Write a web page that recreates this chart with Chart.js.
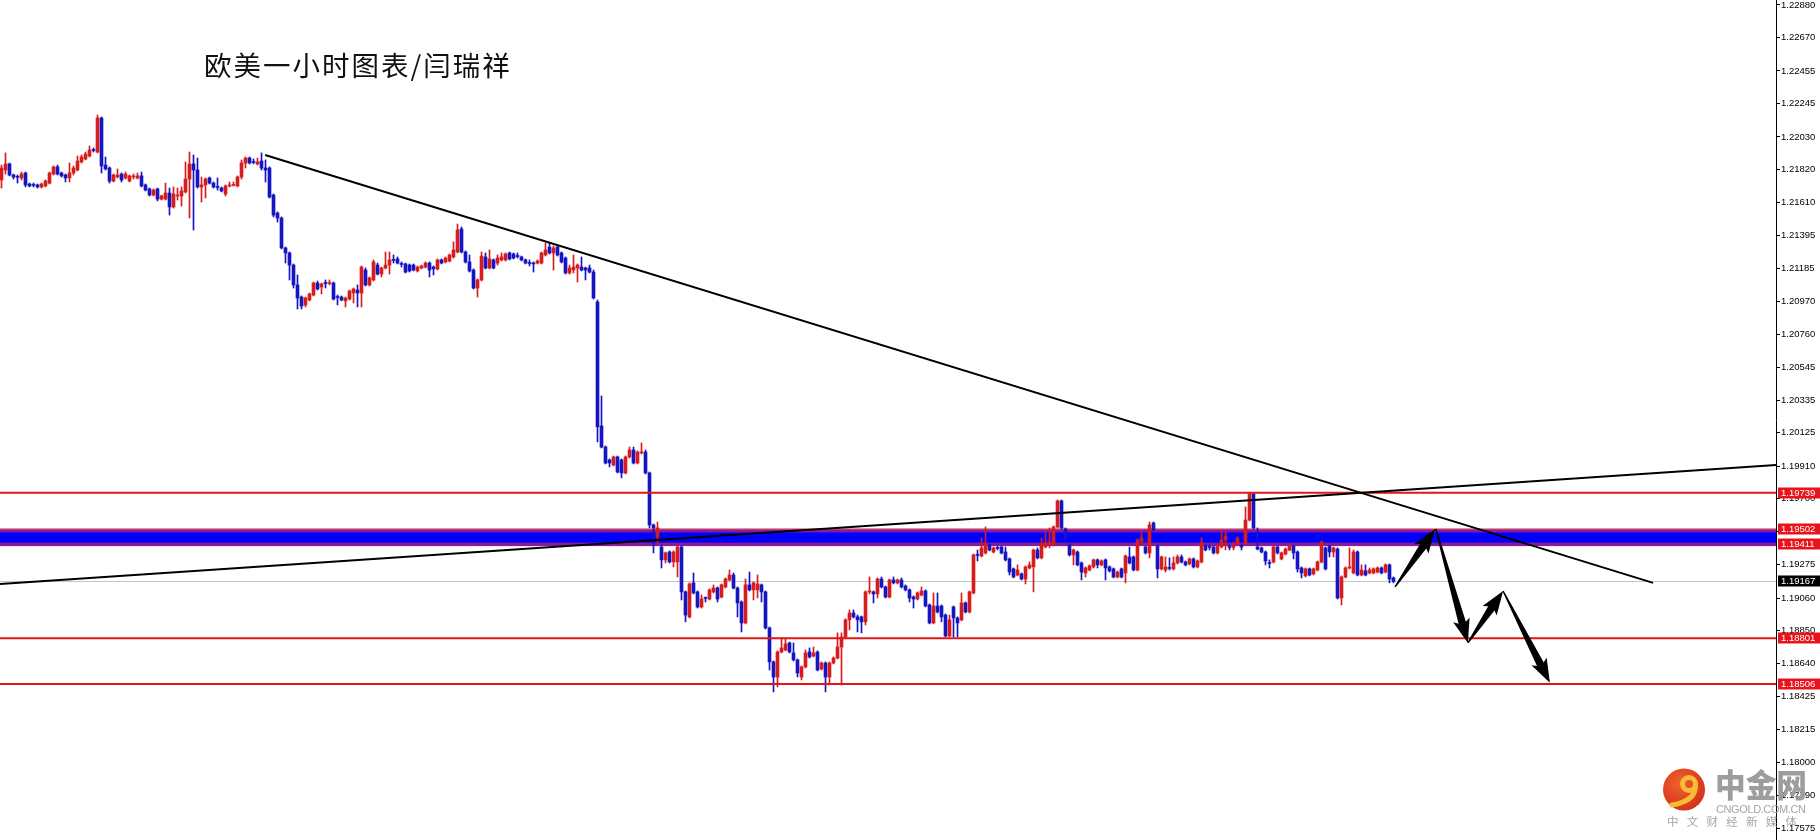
<!DOCTYPE html>
<html><head><meta charset="utf-8">
<script src="https://cdn.jsdelivr.net/npm/chart.js@4.4.1/dist/chart.umd.min.js"></script>
<style>
html,body{margin:0;padding:0;background:#fff;overflow:hidden;}
#wrap{position:relative;width:1820px;height:840px;}
#c{position:absolute;left:0;top:0;}
#title{position:absolute;left:204px;top:51px;font:27.5px/1 "Noto Sans CJK SC",sans-serif;letter-spacing:2px;color:#111;white-space:nowrap;}
#logo{position:absolute;left:1660px;top:766px;}
</style></head>
<body>
<div id="wrap">
<canvas id="c" width="1820" height="840"></canvas>
<div id="title">欧美一小时图表/闫瑞祥</div>
<svg id="logo" width="160" height="74" viewBox="0 0 160 74">
 <defs><radialGradient id="rg" cx="40%" cy="35%" r="70%"><stop offset="0" stop-color="#f2612c"/><stop offset="1" stop-color="#d2301a"/></radialGradient></defs>
 <circle cx="24" cy="23.5" r="21" fill="url(#rg)"/>
 <circle cx="29" cy="18" r="6.5" fill="none" stroke="#f8bb34" stroke-width="5"/>
 <path d="M35.5 19 Q36 35 12 39" fill="none" stroke="#f8bb34" stroke-width="5" stroke-linecap="round"/>
 <text x="55" y="31" font-family="Noto Sans CJK SC" font-weight="900" font-size="32" fill="#9d9d9d" textLength="92" lengthAdjust="spacingAndGlyphs">中金网</text>
 <text x="56" y="47" font-family="Liberation Sans" font-size="11" fill="#a5a5a5" textLength="90" lengthAdjust="spacing">CNGOLD.COM.CN</text>
 <text x="7" y="60" font-family="Noto Sans CJK SC" font-size="11.5" fill="#a5a5a5" textLength="130" lengthAdjust="spacing">中文财经新媒体</text>
</svg>
</div>
<script>
// ---- data (EURUSD 1H candles) ----
const open = [
1.21753,1.21817,1.21856,1.21785,1.21772,1.21766,1.21798,1.21727,1.21721,1.21721,
1.21708,1.21714,1.21733,1.21791,1.21837,1.21798,1.21785,1.21766,1.21798,1.21817,
1.21869,1.21888,1.21907,1.21946,1.21933,1.22152,1.21849,1.21830,1.21746,1.21772,
1.21791,1.21766,1.21746,1.21772,1.21766,1.21779,1.21721,1.21695,1.21656,1.21695,
1.21630,1.21630,1.21669,1.21579,1.21650,1.21650,1.21676,1.21759,1.21856,1.21817,
1.21708,1.21721,1.21766,1.21733,1.21708,1.21701,1.21663,1.21714,1.21718,1.21714,
1.21772,1.21862,1.21894,1.21869,1.21856,1.21875,1.21830,1.21830,1.21656,1.21540,
1.21508,1.21315,1.21283,1.21205,1.21077,1.20999,1.20948,1.20980,1.21012,1.21089,
1.21064,1.21089,1.21086,1.21089,1.20999,1.20999,1.20974,1.20986,1.21025,1.21044,
1.21025,1.21173,1.21077,1.21109,1.21205,1.21147,1.21186,1.21205,1.21238,1.21244,
1.21212,1.21212,1.21205,1.21205,1.21167,1.21186,1.21192,1.21218,1.21192,1.21180,
1.21238,1.21225,1.21231,1.21257,1.21289,1.21437,1.21289,1.21225,1.21173,1.21057,
1.21109,1.21257,1.21186,1.21238,1.21218,1.21238,1.21238,1.21283,1.21276,1.21263,
1.21257,1.21238,1.21218,1.21218,1.21218,1.21218,1.21270,1.21321,1.21283,1.21321,
1.21283,1.21250,1.21154,1.21173,1.21186,1.21192,1.21186,1.21186,1.21160,1.20967,
1.20169,1.20033,1.19950,1.19917,1.19969,1.19950,1.19866,1.19969,1.20014,1.19930,
1.19995,1.20001,1.19866,1.19531,1.19454,1.19389,1.19306,1.19357,1.19293,1.19293,
1.19389,1.19100,1.18939,1.19158,1.19100,1.19003,1.19061,1.19054,1.19100,1.19125,
1.19067,1.19132,1.19177,1.19209,1.19125,1.19035,1.18900,1.19145,1.19113,1.19113,
1.19145,1.19100,1.18868,1.18649,1.18552,1.18713,1.18726,1.18771,1.18707,1.18662,
1.18552,1.18617,1.18713,1.18687,1.18713,1.18604,1.18642,1.18552,1.18642,1.18674,
1.18745,1.18810,1.18920,1.18964,1.18939,1.18939,1.18907,1.19100,1.19100,1.19087,
1.19183,1.19132,1.19067,1.19177,1.19158,1.19177,1.19138,1.19113,1.19067,1.19054,
1.19080,1.19106,1.19016,1.18900,1.19009,1.19009,1.18951,1.18816,1.19003,1.18932,
1.18920,1.19029,1.18971,1.19093,1.19338,1.19331,1.19351,1.19402,1.19357,1.19383,
1.19389,1.19357,1.19312,1.19248,1.19209,1.19216,1.19183,1.19254,1.19261,1.19370,
1.19319,1.19389,1.19415,1.19402,1.19518,1.19686,1.19505,1.19402,1.19338,1.19357,
1.19286,1.19222,1.19241,1.19261,1.19306,1.19274,1.19306,1.19261,1.19248,1.19196,
1.19248,1.19222,1.19325,1.19325,1.19241,1.19422,1.19389,1.19351,1.19544,1.19396,
1.19248,1.19241,1.19254,1.19248,1.19286,1.19325,1.19293,1.19280,1.19312,1.19261,
1.19293,1.19396,1.19389,1.19389,1.19351,1.19389,1.19434,1.19389,1.19386,1.19409,
1.19396,1.19409,1.19563,1.19731,1.19389,1.19383,1.19357,1.19286,1.19293,1.19389,
1.19312,1.19344,1.19370,1.19396,1.19357,1.19254,1.19203,1.19248,1.19216,1.19241,
1.19293,1.19383,1.19396,1.19357,1.19376,1.19061,1.19196,1.19254,1.19222,1.19357,
1.19209,1.19235,1.19222,1.19222,1.19228,1.19254,1.19228,1.19274,1.19190];
const high = [
1.21849,1.21927,1.21862,1.21791,1.21785,1.21804,1.21804,1.21733,1.21733,1.21727,
1.21733,1.21753,1.21804,1.21843,1.21849,1.21804,1.21791,1.21862,1.21843,1.21907,
1.21914,1.21933,1.21972,1.21959,1.22171,1.22159,1.21901,1.21837,1.21791,1.21824,
1.21798,1.21804,1.21785,1.21791,1.21798,1.21804,1.21727,1.21701,1.21695,1.21701,
1.21656,1.21733,1.21701,1.21708,1.21701,1.21708,1.21869,1.21933,1.21914,1.21894,
1.21772,1.21766,1.21772,1.21740,1.21766,1.21708,1.21721,1.21740,1.21740,1.21779,
1.21882,1.21901,1.21901,1.21888,1.21894,1.21927,1.21882,1.21837,1.21663,1.21547,
1.21515,1.21321,1.21289,1.21212,1.21141,1.21006,1.20999,1.21025,1.21096,1.21102,
1.21089,1.21109,1.21109,1.21096,1.21012,1.21006,1.20999,1.21044,1.21057,1.21077,
1.21199,1.21186,1.21128,1.21238,1.21218,1.21192,1.21289,1.21289,1.21270,1.21257,
1.21225,1.21218,1.21212,1.21212,1.21199,1.21205,1.21225,1.21225,1.21199,1.21244,
1.21244,1.21257,1.21276,1.21354,1.21469,1.21450,1.21296,1.21270,1.21180,1.21115,
1.21289,1.21283,1.21302,1.21244,1.21270,1.21283,1.21283,1.21289,1.21283,1.21283,
1.21263,1.21244,1.21238,1.21225,1.21238,1.21289,1.21347,1.21347,1.21328,1.21334,
1.21289,1.21257,1.21205,1.21270,1.21212,1.21257,1.21192,1.21205,1.21173,1.20980,
1.20362,1.20040,1.19956,1.19975,1.19975,1.19956,1.19975,1.20033,1.20033,1.20008,
1.20059,1.20014,1.19872,1.19537,1.19550,1.19402,1.19357,1.19364,1.19364,1.19396,
1.19396,1.19106,1.19158,1.19222,1.19106,1.19080,1.19067,1.19119,1.19145,1.19132,
1.19151,1.19190,1.19241,1.19222,1.19132,1.19042,1.19183,1.19228,1.19164,1.19209,
1.19151,1.19106,1.18874,1.18655,1.18720,1.18803,1.18803,1.18777,1.18771,1.18668,
1.18623,1.18726,1.18739,1.18745,1.18720,1.18649,1.18649,1.18649,1.18681,1.18836,
1.18836,1.18926,1.18984,1.18984,1.18951,1.18945,1.19106,1.19196,1.19106,1.19190,
1.19196,1.19138,1.19183,1.19196,1.19183,1.19190,1.19145,1.19119,1.19074,1.19100,
1.19132,1.19113,1.19022,1.19093,1.19093,1.19016,1.18958,1.18951,1.19009,1.18939,
1.19093,1.19035,1.19106,1.19344,1.19370,1.19447,1.19518,1.19409,1.19389,1.19396,
1.19396,1.19389,1.19319,1.19254,1.19274,1.19222,1.19267,1.19293,1.19376,1.19383,
1.19447,1.19480,1.19512,1.19525,1.19692,1.19692,1.19512,1.19409,1.19376,1.19364,
1.19293,1.19261,1.19274,1.19312,1.19312,1.19306,1.19312,1.19267,1.19254,1.19235,
1.19254,1.19338,1.19389,1.19331,1.19441,1.19480,1.19396,1.19550,1.19550,1.19402,
1.19331,1.19325,1.19319,1.19325,1.19338,1.19338,1.19299,1.19319,1.19319,1.19306,
1.19447,1.19402,1.19402,1.19396,1.19402,1.19492,1.19486,1.19402,1.19422,1.19454,
1.19409,1.19647,1.19737,1.19737,1.19512,1.19389,1.19364,1.19306,1.19396,1.19396,
1.19357,1.19383,1.19402,1.19402,1.19364,1.19261,1.19254,1.19254,1.19254,1.19299,
1.19428,1.19389,1.19402,1.19389,1.19383,1.19203,1.19261,1.19383,1.19370,1.19364,
1.19274,1.19274,1.19254,1.19254,1.19261,1.19261,1.19280,1.19280,1.19196];
const low = [
1.21701,1.21791,1.21779,1.21759,1.21733,1.21753,1.21708,1.21708,1.21708,1.21701,
1.21701,1.21708,1.21727,1.21785,1.21785,1.21772,1.21740,1.21740,1.21785,1.21811,
1.21862,1.21882,1.21901,1.21933,1.21927,1.21798,1.21817,1.21733,1.21740,1.21766,
1.21740,1.21759,1.21740,1.21759,1.21759,1.21708,1.21682,1.21650,1.21650,1.21618,
1.21624,1.21624,1.21527,1.21572,1.21624,1.21585,1.21669,1.21508,1.21431,1.21701,
1.21611,1.21637,1.21727,1.21701,1.21688,1.21676,1.21650,1.21708,1.21714,1.21708,
1.21759,1.21830,1.21856,1.21856,1.21849,1.21817,1.21740,1.21637,1.21515,1.21482,
1.21309,1.21218,1.21109,1.21057,1.20922,1.20922,1.20935,1.20974,1.21006,1.21044,
1.21019,1.21057,1.21077,1.20980,1.20948,1.20974,1.20935,1.20980,1.20961,1.20935,
1.20935,1.21070,1.21070,1.21102,1.21141,1.21128,1.21180,1.21147,1.21218,1.21212,
1.21192,1.21154,1.21160,1.21167,1.21160,1.21180,1.21186,1.21128,1.21141,1.21173,
1.21212,1.21218,1.21225,1.21250,1.21283,1.21283,1.21218,1.21160,1.21051,1.20999,
1.21102,1.21180,1.21180,1.21180,1.21205,1.21231,1.21231,1.21238,1.21244,1.21250,
1.21231,1.21212,1.21199,1.21160,1.21212,1.21212,1.21263,1.21276,1.21173,1.21263,
1.21218,1.21147,1.21147,1.21154,1.21096,1.21167,1.21109,1.21154,1.20986,1.20066,
1.20027,1.19924,1.19905,1.19911,1.19866,1.19834,1.19860,1.19962,1.19924,1.19924,
1.19988,1.19860,1.19512,1.19351,1.19415,1.19254,1.19286,1.19286,1.19261,1.19196,
1.19048,1.18907,1.18932,1.19087,1.18996,1.18996,1.19035,1.19048,1.19093,1.19035,
1.19061,1.19125,1.19171,1.19119,1.18939,1.18842,1.18894,1.19106,1.19048,1.19061,
1.19035,1.18861,1.18597,1.18456,1.18488,1.18707,1.18720,1.18707,1.18655,1.18552,
1.18533,1.18610,1.18674,1.18681,1.18591,1.18597,1.18456,1.18501,1.18636,1.18668,
1.18501,1.18803,1.18855,1.18932,1.18842,1.18836,1.18887,1.19087,1.19029,1.19061,
1.19125,1.19061,1.19061,1.19151,1.19151,1.19125,1.19106,1.19035,1.18996,1.19048,
1.19074,1.19003,1.18894,1.18894,1.18964,1.18907,1.18810,1.18810,1.18810,1.18810,
1.18913,1.18964,1.18964,1.19087,1.19299,1.19325,1.19344,1.19364,1.19351,1.19370,
1.19344,1.19299,1.19209,1.19190,1.19203,1.19177,1.19151,1.19248,1.19100,1.19312,
1.19312,1.19383,1.19383,1.19396,1.19512,1.19505,1.19415,1.19331,1.19274,1.19267,
1.19177,1.19196,1.19235,1.19254,1.19254,1.19267,1.19177,1.19228,1.19190,1.19190,
1.19190,1.19158,1.19280,1.19235,1.19235,1.19415,1.19344,1.19319,1.19492,1.19190,
1.19241,1.19228,1.19241,1.19241,1.19280,1.19286,1.19267,1.19274,1.19254,1.19254,
1.19286,1.19364,1.19370,1.19344,1.19344,1.19383,1.19370,1.19370,1.19370,1.19402,
1.19370,1.19402,1.19557,1.19505,1.19370,1.19351,1.19274,1.19254,1.19286,1.19344,
1.19306,1.19338,1.19364,1.19312,1.19228,1.19190,1.19196,1.19203,1.19209,1.19235,
1.19286,1.19241,1.19325,1.19325,1.19054,1.19016,1.19190,1.19248,1.19216,1.19203,
1.19203,1.19203,1.19216,1.19216,1.19222,1.19216,1.19222,1.19158,1.19158];
const close = [
1.21830,1.21856,1.21785,1.21772,1.21770,1.21791,1.21721,1.21714,1.21718,1.21708,
1.21727,1.21746,1.21798,1.21837,1.21791,1.21779,1.21766,1.21798,1.21830,1.21875,
1.21901,1.21920,1.21946,1.21943,1.22152,1.21843,1.21824,1.21746,1.21785,1.21785,
1.21753,1.21791,1.21779,1.21775,1.21779,1.21714,1.21688,1.21656,1.21688,1.21630,
1.21650,1.21669,1.21579,1.21663,1.21653,1.21682,1.21759,1.21856,1.21817,1.21708,
1.21721,1.21759,1.21733,1.21708,1.21705,1.21682,1.21714,1.21718,1.21721,1.21772,
1.21862,1.21894,1.21862,1.21866,1.21869,1.21830,1.21817,1.21643,1.21527,1.21508,
1.21315,1.21283,1.21205,1.21077,1.20993,1.20941,1.20993,1.21019,1.21089,1.21051,
1.21083,1.21086,1.21089,1.20986,1.20996,1.20980,1.20993,1.21038,1.21051,1.21025,
1.21192,1.21077,1.21122,1.21225,1.21147,1.21186,1.21205,1.21238,1.21235,1.21218,
1.21209,1.21160,1.21167,1.21173,1.21192,1.21199,1.21218,1.21173,1.21180,1.21238,
1.21218,1.21250,1.21270,1.21302,1.21431,1.21289,1.21225,1.21167,1.21057,1.21109,
1.21263,1.21186,1.21244,1.21186,1.21250,1.21257,1.21276,1.21244,1.21250,1.21260,
1.21238,1.21218,1.21215,1.21212,1.21231,1.21283,1.21302,1.21283,1.21315,1.21270,
1.21225,1.21154,1.21186,1.21192,1.21205,1.21173,1.21173,1.21160,1.20993,1.20163,
1.20033,1.19930,1.19930,1.19969,1.19872,1.19866,1.19969,1.20014,1.19930,1.20001,
1.20001,1.19866,1.19531,1.19512,1.19512,1.19306,1.19351,1.19293,1.19357,1.19389,
1.19100,1.18951,1.19151,1.19093,1.19003,1.19054,1.19058,1.19113,1.19125,1.19054,
1.19145,1.19183,1.19209,1.19125,1.19029,1.18900,1.19145,1.19113,1.19158,1.19151,
1.19100,1.18868,1.18649,1.18552,1.18713,1.18739,1.18764,1.18713,1.18662,1.18578,
1.18617,1.18707,1.18681,1.18707,1.18597,1.18642,1.18552,1.18642,1.18674,1.18745,
1.18810,1.18920,1.18964,1.18939,1.18920,1.18907,1.19100,1.19103,1.19087,1.19183,
1.19132,1.19067,1.19177,1.19158,1.19177,1.19132,1.19113,1.19061,1.19054,1.19093,
1.19106,1.19009,1.18900,1.19009,1.18971,1.18939,1.18816,1.18920,1.18932,1.18900,
1.19029,1.18971,1.19100,1.19338,1.19335,1.19383,1.19402,1.19370,1.19383,1.19380,
1.19351,1.19306,1.19228,1.19196,1.19241,1.19183,1.19261,1.19274,1.19370,1.19319,
1.19402,1.19415,1.19418,1.19518,1.19686,1.19512,1.19447,1.19338,1.19370,1.19274,
1.19228,1.19254,1.19267,1.19306,1.19274,1.19299,1.19254,1.19235,1.19196,1.19228,
1.19196,1.19331,1.19286,1.19241,1.19434,1.19447,1.19351,1.19531,1.19499,1.19248,
1.19325,1.19261,1.19251,1.19286,1.19325,1.19293,1.19274,1.19312,1.19261,1.19299,
1.19415,1.19370,1.19386,1.19351,1.19396,1.19434,1.19460,1.19386,1.19389,1.19447,
1.19389,1.19563,1.19731,1.19512,1.19376,1.19357,1.19299,1.19283,1.19389,1.19351,
1.19351,1.19376,1.19396,1.19351,1.19248,1.19222,1.19248,1.19209,1.19248,1.19293,
1.19422,1.19248,1.19357,1.19383,1.19061,1.19196,1.19254,1.19257,1.19357,1.19209,
1.19241,1.19209,1.19241,1.19248,1.19254,1.19222,1.19274,1.19183,1.19167];

const yTicks = [1.22880,1.22670,1.22455,1.22245,1.22030,1.21820,1.21610,1.21395,1.21185,
  1.20970,1.20760,1.20545,1.20335,1.20125,1.19910,1.19700,1.19490,1.19275,1.19060,
  1.18850,1.18640,1.18425,1.18215,1.18000,1.17790,1.17575];
const redLevels = [1.19739, 1.18801, 1.18506];
const zoneLevels = [1.19502, 1.19411];
const lastPrice = 1.19167;
// trend lines: [candle index, price]
const trendDown = [[65.9, 1.21914], [412.9, 1.19158]];
const trendUp = [[-0.375, 1.19151], [443.625, 1.19917]];
// projected path arrows: [tail, tip] as [candle index, price]
const arrowPath = [
  [[348.4, 1.19132], [358.4, 1.19505]],
  [[358.6, 1.19505], [366.6, 1.18771]],
  [[366.6, 1.18771], [375.4, 1.19106]],
  [[375.4, 1.19106], [387.1, 1.18514]]
];
const xMin = -0.375, xMax = 443.625;

// ---- build ----
const N = Math.min(open.length, high.length, low.length, close.length);
const RED = '#d81c1c', BLUE = '#1515c4';
const idx = Array.from({length: N}, (_, i) => i);
const colors = idx.map(i => close[i] >= open[i] ? RED : BLUE);
const bodyData = idx.map(i => ({x: i, y: [open[i], close[i]]}));
const wickData = idx.map(i => ({x: i, y: [low[i], high[i]]}));
const hline = v => [{x: xMin, y: v}, {x: xMax, y: v}];
const pts = arr => arr.map(p => ({x: p[0], y: p[1]}));

const lineDs = (data, color, width, order) => ({
  type: 'line', data, borderColor: color, borderWidth: width,
  pointRadius: 0, fill: false, tension: 0, order
});

const zonePlugin = {
  id: 'zone',
  beforeDatasetsDraw(chart) {
    const {ctx, chartArea: a, scales: {y}} = chart;
    const yt = y.getPixelForValue(zoneLevels[0]);
    const yb = y.getPixelForValue(zoneLevels[1]);
    const w = a.right - a.left;
    ctx.save();
    ctx.fillStyle = '#0000ff';
    ctx.fillRect(a.left, yt, w, yb - yt + 1.5);
    ctx.fillStyle = '#8a1a9c';
    ctx.fillRect(a.left, yt, w, 3);
    ctx.fillRect(a.left, yb - 1, w, 3.5);
    ctx.fillStyle = '#e33a3a';
    ctx.fillRect(a.left, yt - 1, w, 1);
    ctx.restore();
  }
};

const arrowPlugin = {
  id: 'arrows',
  afterDatasetsDraw(chart) {
    const {ctx, scales: {x, y}} = chart;
    ctx.save();
    ctx.fillStyle = '#000';
    arrowPath.forEach(([t, h]) => {
      const x0 = x.getPixelForValue(t[0]), y0 = y.getPixelForValue(t[1]);
      const x1 = x.getPixelForValue(h[0]), y1 = y.getPixelForValue(h[1]);
      const dx = x1 - x0, dy = y1 - y0, L = Math.hypot(dx, dy);
      const ux = dx / L, uy = dy / L, nx = -uy, ny = ux;
      const head = 21, hw = 8.5, sw = 3.8, tw = 0.7;
      const bx = x1 - ux * head, by = y1 - uy * head;
      ctx.beginPath();
      ctx.moveTo(x0 + nx * tw, y0 + ny * tw);
      ctx.lineTo(bx + nx * sw, by + ny * sw);
      ctx.lineTo(bx - ux * 3 + nx * hw, by - uy * 3 + ny * hw);
      ctx.lineTo(x1, y1);
      ctx.lineTo(bx - ux * 3 - nx * hw, by - uy * 3 - ny * hw);
      ctx.lineTo(bx - nx * sw, by - ny * sw);
      ctx.lineTo(x0 - nx * tw, y0 - ny * tw);
      ctx.closePath();
      ctx.fill();
    });
    ctx.restore();
  }
};

const labelPlugin = {
  id: 'priceLabels',
  afterDraw(chart) {
    const {ctx, chartArea: a, scales: {y}} = chart;
    ctx.save();
    ctx.font = '9.5px "Liberation Sans"';
    ctx.textBaseline = 'middle';
    ctx.textAlign = 'left';
    const box = (v, bg) => {
      const py = y.getPixelForValue(v);
      ctx.fillStyle = bg;
      ctx.fillRect(a.right + 2, Math.round(py) - 5.5, 44, 11);
      ctx.fillStyle = '#fff';
      ctx.fillText(v.toFixed(5), a.right + 5, Math.round(py) + 0.5);
    };
    [...redLevels, ...zoneLevels].forEach(v => box(v, '#e8141c'));
    box(lastPrice, '#000');
    ctx.restore();
  }
};

new Chart(document.getElementById('c'), {
  type: 'bar',
  data: {
    datasets: [
      lineDs(pts(trendDown), '#000', 2, -2),
      lineDs(pts(trendUp), '#000', 2, -2),
      ...redLevels.map(v => lineDs(hline(v), '#e21616', 2, -1)),
      {type: 'bar', data: bodyData, backgroundColor: colors, barThickness: 3,
       minBarLength: 1, grouped: false, order: 1},
      {type: 'bar', data: wickData, backgroundColor: colors, barThickness: 1,
       grouped: false, order: 2},
      lineDs(hline(lastPrice), '#c4c4c4', 1, 5)
    ]
  },
  options: {
    responsive: false,
    animation: false,
    events: [],
    layout: {padding: 0},
    plugins: {legend: {display: false}, tooltip: {enabled: false}, title: {display: false}},
    scales: {
      x: {type: 'linear', min: xMin, max: xMax, display: false, offset: false},
      y: {
        type: 'linear', position: 'right', min: 1.17502, max: 1.22912,
        afterBuildTicks: s => { s.ticks = yTicks.map(v => ({value: v})); },
        afterFit: s => { s.width = 44; s.paddingTop = 0; s.paddingBottom = 0; },
        ticks: {autoSkip: false, padding: 1, color: '#000',
                font: {family: 'Liberation Sans', size: 9.5},
                callback: v => Number(v).toFixed(5)},
        grid: {drawOnChartArea: false, drawTicks: true, tickLength: 4, color: '#000', lineWidth: 1},
        border: {display: true, color: '#000', width: 1}
      }
    }
  },
  plugins: [zonePlugin, arrowPlugin, labelPlugin]
});
</script>
</body></html>
